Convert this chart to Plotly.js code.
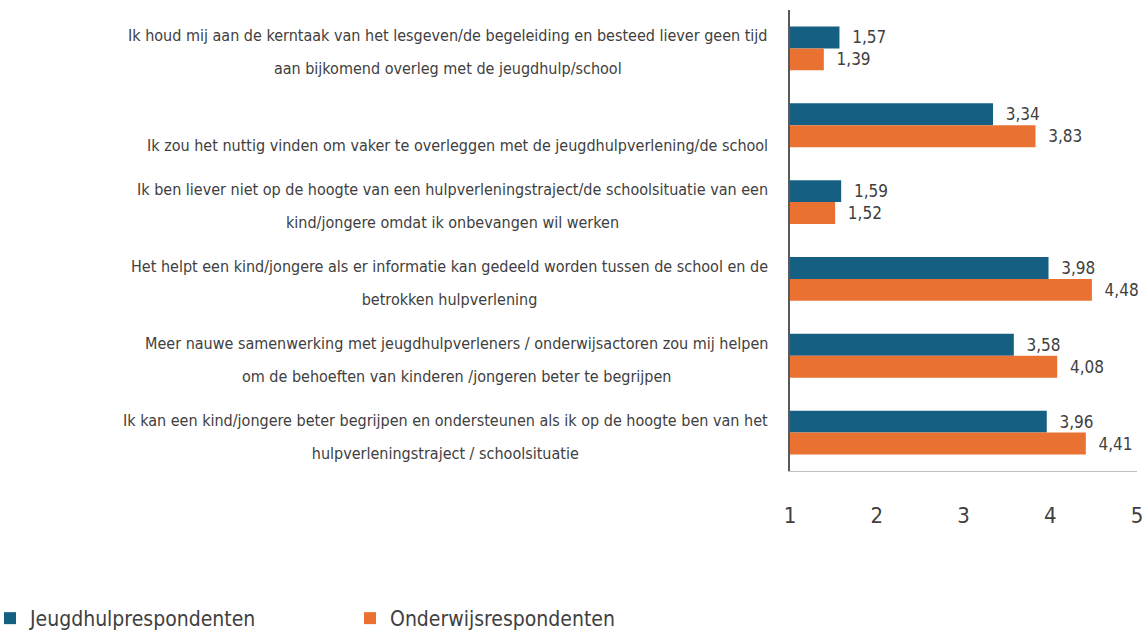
<!DOCTYPE html>
<html><head><meta charset="utf-8">
<script src="https://cdn.plot.ly/plotly-3.0.1.min.js"></script>
<style>html,body{margin:0;padding:0;background:#fff;} #chart{width:1148px;height:639px;}</style>
</head><body><div id="chart"></div>
<script>
const categories = [
  "Ik houd mij aan de kerntaak van het lesgeven/de begeleiding en besteed liever geen tijd<br>aan bijkomend overleg met de jeugdhulp/school",
  "\u00a0<br>Ik zou het nuttig vinden om vaker te overleggen met de jeugdhulpverlening/de school",
  "Ik ben liever niet op de hoogte van een hulpverleningstraject/de schoolsituatie van een<br>kind/jongere omdat ik onbevangen wil werken",
  "Het helpt een kind/jongere als er informatie kan gedeeld worden tussen de school en de<br>betrokken hulpverlening",
  "Meer nauwe samenwerking met jeugdhulpverleners / onderwijsactoren zou mij helpen<br>om de behoeften van kinderen /jongeren beter te begrijpen",
  "Ik kan een kind/jongere beter begrijpen en ondersteunen als ik op de hoogte ben van het<br>hulpverleningstraject / schoolsituatie"
];
const seriesNames = ["Jeugdhulprespondenten", "Onderwijsrespondenten"];
const jeugdhulp = [1.57, 3.34, 1.59, 3.98, 3.58, 3.96];
const onderwijs = [1.39, 3.83, 1.52, 4.48, 4.08, 4.41];
const xTicks = [1, 2, 3, 4, 5];

const FONT = "'Liberation Sans Narrow', 'Arial Narrow', 'DejaVu Sans Condensed', sans-serif";
const TXT = "#404040";

function barTrace(name, vals, color, legendId) {
  return {
    type: "bar", orientation: "h", name: name, legend: legendId,
    y: categories, x: vals,
    marker: {color: color},
    texttemplate: "\u00a0\u00a0%{x:.2f}", textposition: "outside",
    constraintext: "none", cliponaxis: false,
    textfont: {family: FONT, size: 17, color: TXT},
    hoverinfo: "skip"
  };
}
const traces = [
  barTrace(seriesNames[0], jeugdhulp, "#156082", "legend"),
  barTrace(seriesNames[1], onderwijs, "#E97132", "legend2")
];

const annotations = categories.map(c => ({
  xref: "paper", yref: "y", x: 0, y: c,
  xanchor: "right", yanchor: "middle", xshift: -20, yshift: -4,
  align: "center", showarrow: false,
  text: c.split("<br>").map(l => '<span style="font-size:16px">' + l + '</span>').join("<br>"),
  font: {family: FONT, size: 25, color: TXT}
}));

function legendAt(x) {
  return {
    orientation: "h", xref: "container", yref: "container",
    x: x, y: 0.0, xanchor: "left", yanchor: "bottom",
    indentation: -10, bgcolor: "rgba(0,0,0,0)",
    font: {family: FONT, size: 21, color: TXT}
  };
}

const layout = {
  width: 1148, height: 639,
  margin: {l: 790, r: 11, t: 10, b: 168, autoexpand: false},
  paper_bgcolor: "#fff", plot_bgcolor: "#fff",
  separators: ",.",
  barmode: "group", bargap: 0.43, bargroupgap: 0,
  showlegend: true,
  legend: legendAt(0),
  legend2: legendAt(0.3136),
  xaxis: {
    range: [1, 5], tickvals: xTicks, ticktext: xTicks.map(String),
    showgrid: false, zeroline: false, showline: true, linecolor: "#bfbfbf", linewidth: 1,
    ticks: "", ticklabelstandoff: 25,
    tickfont: {family: FONT, size: 22, color: TXT}
  },
  yaxis: {
    type: "category", autorange: "reversed", showticklabels: false,
    showgrid: false, zeroline: false, showline: true, linecolor: "#595959", linewidth: 2,
    ticks: ""
  },
  annotations: annotations
};

Plotly.newPlot("chart", traces, layout, {staticPlot: true, displayModeBar: false});
</script>
</body></html>
